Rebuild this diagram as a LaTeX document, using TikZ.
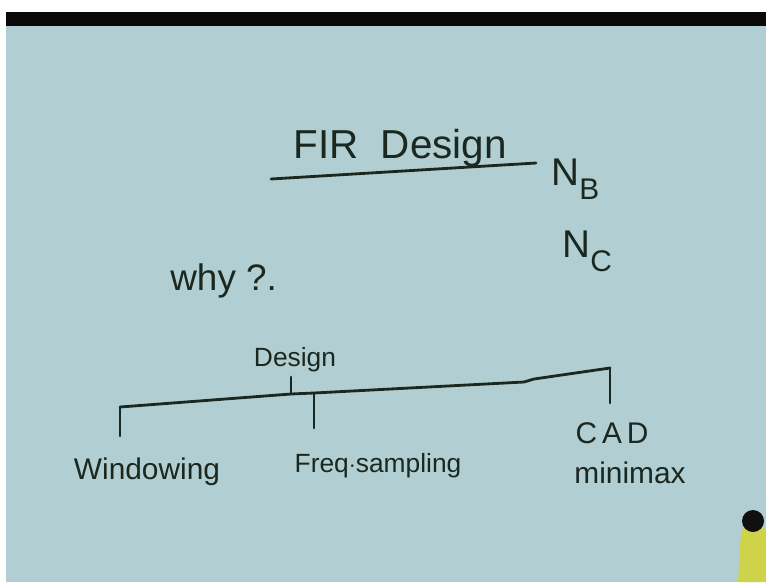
\documentclass[tikz,border=0pt]{standalone}
\usepackage{fontspec}
\setmainfont{Liberation Sans}
\usetikzlibrary{positioning}
\definecolor{boardFill}{HTML}{B1CFD2}
\definecolor{bandDark}{HTML}{0B0908}
\definecolor{inkText}{HTML}{1B2820}
\definecolor{penBody}{HTML}{CFD34A}
\definecolor{penTip}{HTML}{101010}

\begin{document}
\begin{tikzpicture}[
  x=0.02cm, y=-0.02cm,
  every node/.style={text=inkText, inner sep=0pt},
  hand/.style={font=\fontsize{17}{20}\selectfont, anchor=base},
  big/.style={font=\fontsize{23}{27}\selectfont, anchor=base},
  ink/.style={draw=inkText, line width=1.6pt, line cap=round, line join=round},
]

% ---------------- BOARD (background) ----------------
\useasboundingbox (0,0) rectangle (766,582);
\fill[white] (0,0) rectangle (766,582);
\fill[bandDark] (6,12) rectangle (766,26);
\fill[boardFill] (6,26) rectangle (766,582);

% ---------------- NODES (absolute grid) ----------------
\node[big] (TITLE) at (400,158) {FIR\ \ Design};
\node[big, anchor=base west, font=\fontsize{22}{26}\selectfont] (NB) at (551,185)
  {N\raisebox{-8pt}{\fontsize{17}{20}\selectfont B}};
\node[big, anchor=base west, font=\fontsize{22}{26}\selectfont] (NC) at (562,257)
  {N\raisebox{-8pt}{\fontsize{17}{20}\selectfont C}};
\node[big, anchor=base west, font=\fontsize{21}{25}\selectfont] (WHY) at (170,290) {why ?.};

\node[hand, font=\fontsize{15}{18}\selectfont] (DESIGN) at (295,366) {Design};
\node[hand] (WIN) at (147,479) {Windowing};
\node[hand, font=\fontsize{15}{18}\selectfont] (FREQ) at (378,472) {Freq$\cdot$sampling};
\node[hand] (CAD) at (612,443) {C\,A\,D};
\node[hand] (MINI) at (630,483) {minimax};

% ---------------- TREE ----------------
\coordinate (barL) at (120,407);
\coordinate (barD) at (291,394);
\coordinate (barF) at (314,393);
\coordinate (kinkA) at (524,382);
\coordinate (kinkB) at (534,379);
\coordinate (barR) at (610,368);
\coordinate (tickTop) at (291,377);
\coordinate (dropW) at (120,436);
\coordinate (dropF) at (314,428);
\coordinate (dropC) at (610,403);

% ---------------- EDGES ----------------
\draw[ink] (271,179) -- (536,163); % underline of title
\draw[ink] (barL) -- (barD) -- (barF) -- (kinkA) -- (kinkB) -- (barR);
\draw[ink] (tickTop) -- (barD);
\draw[ink] (barL) -- (dropW);
\draw[ink] (barF) -- (dropF);
\draw[ink] (barR) -- (dropC);

% ---------------- PEN (bottom right) ----------------
\fill[penBody] (741,532) .. controls (744,524) and (760,522) .. (766,530)
  -- (766,582) -- (738,582) -- cycle;
\fill[penTip] (753,521) ellipse [x radius=11, y radius=11];
\end{tikzpicture}
\end{document}
